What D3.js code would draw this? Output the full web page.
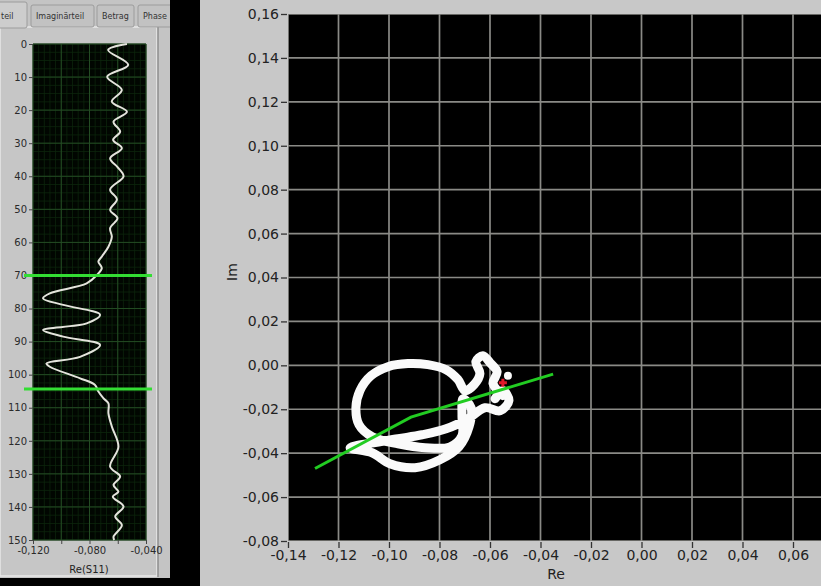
<!DOCTYPE html>
<meta charset="utf-8">
<head>
    <script src="https://d3js.org/d3.v7.min.js"></script>
    <style>
        body { margin: 0; background: #000; }
        svg { display: block; }
        .lbl { font-family: "DejaVu Sans", sans-serif; fill: #222; }
        .tab { font-family: "DejaVu Sans", sans-serif; font-size: 8px; fill: #333; }
    </style>
</head>
<body>
<div id="viz"></div>
<script>
    // Re(S11) against sample index (left strip chart)
    var sampleIndex = [0, 1.8, 6.3, 9.9, 13.9, 17.4, 20.5, 23.5, 26.5, 29, 31.5, 34.6, 37.3, 40, 44, 47,
        50.2, 52.7, 55.7, 58.3, 61.3, 64.3, 65.8, 67.8, 69.9, 72.4, 75.4, 76.9, 78.9, 81.9, 84.5, 86.5,
        88.5, 91, 94.6, 96.6, 97.6, 101.1, 103.1, 105.1, 107.1, 108.7, 111.7, 115.7, 121.8, 127.8, 130.8,
        133.4, 135.4, 136.9, 139.9, 142.9, 145.5, 149, 150];
    var sampleRe = [-0.0535, -0.0668, -0.0526, -0.0675, -0.0571, -0.0642, -0.0535, -0.0630, -0.0583,
        -0.0633, -0.0571, -0.0654, -0.0600, -0.0559, -0.0654, -0.0606, -0.0654, -0.0602, -0.0654, -0.0642,
        -0.0666, -0.0713, -0.0737, -0.0713, -0.0749, -0.0820, -0.1081, -0.1129, -0.0986, -0.0725, -0.0820,
        -0.1129, -0.0986, -0.0725, -0.0867, -0.1105, -0.1081, -0.0867, -0.0761, -0.0737, -0.0702, -0.0666,
        -0.0666, -0.0642, -0.0595, -0.0654, -0.0583, -0.0630, -0.0595, -0.0635, -0.0559, -0.0618, -0.0571,
        -0.0630, -0.0625];
    var cursorIndex = [70, 104.3];

    // Re / Im trajectory (right plot)
    var traceRe = [-0.0549, -0.0588, -0.0572, -0.0600, -0.0628, -0.0656, -0.0640, -0.0663, -0.0699,
        -0.0727, -0.0774, -0.0846, -0.0925, -0.1004, -0.1071, -0.1115, -0.1131, -0.1119, -0.1067, -0.0964,
        -0.0857, -0.0758, -0.0711, -0.0711, -0.0707, -0.0675, -0.0683, -0.0723, -0.0798, -0.0897, -0.0996,
        -0.1067, -0.1154, -0.1055, -0.0964, -0.0869, -0.0774, -0.0687, -0.0620, -0.0560, -0.0525, -0.0549,
        -0.0580];
    var traceIm = [-0.0138, -0.0083, -0.0029, 0.0012, 0.0044, 0.0017, -0.0038, -0.0088, -0.0115,
        -0.0065, -0.0020, 0.0003, 0.0008, -0.0006, -0.0047, -0.0115, -0.0193, -0.0270, -0.0325, -0.0357,
        -0.0375, -0.0371, -0.0321, -0.0229, -0.0152, -0.0193, -0.0280, -0.0371, -0.0430, -0.0466, -0.0448,
        -0.0398, -0.0375, -0.0352, -0.0334, -0.0316, -0.0289, -0.0243, -0.0193, -0.0207, -0.0161, -0.0115,
        -0.0152];
    var dotRe = [-0.0529], dotIm = [-0.0047];
    var markerRe = [-0.0549], markerIm = [-0.0079];
    var fitRe = [-0.1293, -0.0913, -0.035];
    var fitIm = [-0.047, -0.0236, -0.004];

    var tabNames = ["teil", "Imaginärteil", "Betrag", "Phase"];
    var reTicks = [-0.14, -0.12, -0.10, -0.08, -0.06, -0.04, -0.02, 0, 0.02, 0.04, 0.06];

    var loc = d3.formatLocale({decimal: ",", thousands: ".", grouping: [3], currency: ["", ""], minus: "-"});
    var f2 = loc.format(".2f"), f3 = loc.format(".3f");

    var svg = d3.select("#viz").append("svg")
        .attr("width", 821)
        .attr("height", 586);

    svg.append("rect").attr("width", 821).attr("height", 586).attr("fill", "#000");

    // ---------- left panel ----------
    var left = svg.append("g");
    left.append("rect").attr("x", 0).attr("y", 0).attr("width", 170).attr("height", 578).attr("fill", "#c4c4c4");
    left.append("rect").attr("x", 0).attr("y", 27).attr("width", 157).attr("height", 549)
        .attr("fill", "#c6c6c6").attr("stroke", "#e8e8e8").attr("stroke-width", 1.5);
    left.append("line").attr("x1", 158).attr("x2", 158).attr("y1", 27).attr("y2", 577)
        .attr("stroke", "#8e8e8e").attr("stroke-width", 1.5);

    var tabX = [-4, 31, 97, 138], tabW = [31, 63, 37, 36];
    var tabs = left.selectAll(".tabg").data(tabNames).enter().append("g");
    tabs.append("rect")
        .attr("x", function(d, i) { return tabX[i]; })
        .attr("y", function(d, i) { return i == 0 ? 2 : 5; })
        .attr("width", function(d, i) { return tabW[i]; })
        .attr("height", function(d, i) { return i == 0 ? 26 : 22; })
        .attr("rx", 2)
        .attr("fill", function(d, i) { return i == 0 ? "#cdcdcd" : "#c2c2c2"; })
        .attr("stroke", "#9c9c9c");
    tabs.append("text").attr("class", "tab")
        .attr("x", function(d, i) { return tabX[i] + 5; })
        .attr("y", 19)
        .text(function(d) { return d; });
    left.append("rect").attr("x", 170).attr("y", 0).attr("width", 30).attr("height", 586).attr("fill", "#000");

    var lx = d3.scaleLinear().domain([-0.12, -0.04]).range([33, 146]);
    var ly = d3.scaleLinear().domain([0, 150]).range([44, 540]);

    left.append("rect").attr("x", 33).attr("y", 44).attr("width", 113).attr("height", 496).attr("fill", "#010601");
    left.append("g").selectAll("line").data(d3.range(-0.12, -0.0399, 0.004)).enter().append("line")
        .attr("x1", function(d) { return lx(d); }).attr("x2", function(d) { return lx(d); })
        .attr("y1", 44).attr("y2", 540).attr("stroke", "#0d260d").attr("stroke-width", 0.8);
    left.append("g").selectAll("line").data(d3.range(0, 150.1, 2.5)).enter().append("line")
        .attr("y1", function(d) { return ly(d); }).attr("y2", function(d) { return ly(d); })
        .attr("x1", 33).attr("x2", 146).attr("stroke", "#0d260d").attr("stroke-width", 0.8);
    left.append("g").selectAll("line").data(lx.ticks(4)).enter().append("line")
        .attr("x1", function(d) { return lx(d); }).attr("x2", function(d) { return lx(d); })
        .attr("y1", 44).attr("y2", 540).attr("stroke", "#244c24").attr("stroke-width", 1);
    left.append("g").selectAll("line").data(ly.ticks(15)).enter().append("line")
        .attr("y1", function(d) { return ly(d); }).attr("y2", function(d) { return ly(d); })
        .attr("x1", 33).attr("x2", 146).attr("stroke", "#244c24").attr("stroke-width", 1);

    var lyAxis = left.append("g").attr("class", "lbl").attr("transform", "translate(33,0)")
        .call(d3.axisLeft(ly).ticks(15).tickSize(4).tickPadding(2));
    var lxAxis = left.append("g").attr("class", "lbl").attr("transform", "translate(0,540)")
        .call(d3.axisBottom(lx).tickValues(d3.range(-0.12, -0.0399, 0.02)).tickSize(4).tickPadding(3)
            .tickFormat(function(d, i) { return i % 2 == 0 ? f3(d) : ""; }));
    [lyAxis, lxAxis].forEach(function(a) {
        a.select(".domain").remove();
        a.selectAll("line").attr("stroke", "#444");
        a.selectAll("text").attr("fill", "#2a2a2a").style("font-size", "10px").style("font-family", "DejaVu Sans, sans-serif");
    });
    left.append("text").attr("class", "lbl").attr("x", 89).attr("y", 573)
        .attr("text-anchor", "middle").style("font-size", "10px").attr("fill", "#2a2a2a").text("Re(S11)");

    var reLine = d3.line()
        .x(function(d, i) { return lx(sampleRe[i]); })
        .y(function(d) { return ly(d); })
        .curve(d3.curveCatmullRom);
    left.append("path").datum(sampleIndex).attr("d", reLine)
        .attr("fill", "none").attr("stroke", "#e4e4dc").attr("stroke-width", 2);

    left.selectAll(".cursor").data(cursorIndex).enter().append("line")
        .attr("x1", 24).attr("x2", 152)
        .attr("y1", function(d) { return ly(d); }).attr("y2", function(d) { return ly(d); })
        .attr("stroke", "#33dd33").attr("stroke-width", 3);

    // ---------- right panel ----------
    var right = svg.append("g");
    right.append("rect").attr("x", 200).attr("y", 0).attr("width", 621).attr("height", 586).attr("fill", "#c8c8c8");

    var x = d3.scaleLinear().domain([-0.14, 0.10]).range([288, 894]);
    var y = d3.scaleLinear().domain([-0.08, 0.16]).range([541, 14]);

    right.append("clipPath").attr("id", "plotclip").append("rect")
        .attr("x", 288).attr("y", 14).attr("width", 533).attr("height", 527);
    right.append("rect").attr("x", 288).attr("y", 14).attr("width", 540).attr("height", 527).attr("fill", "#000");

    var plot = right.append("g").attr("clip-path", "url(#plotclip)");
    plot.append("g").selectAll("line").data(x.ticks(12)).enter().append("line")
        .attr("x1", function(d) { return x(d); }).attr("x2", function(d) { return x(d); })
        .attr("y1", 14).attr("y2", 541).attr("stroke", "#8a8a86").attr("stroke-width", 1.7);
    plot.append("g").selectAll("line").data(y.ticks(12)).enter().append("line")
        .attr("y1", function(d) { return y(d); }).attr("y2", function(d) { return y(d); })
        .attr("x1", 288).attr("x2", 821).attr("stroke", "#8a8a86").attr("stroke-width", 1.7);

    var yAxis = right.append("g").attr("transform", "translate(287,0)")
        .call(d3.axisLeft(y).ticks(12).tickSize(6).tickPadding(2).tickFormat(f2));
    var xAxis = right.append("g").attr("transform", "translate(0,542)")
        .call(d3.axisBottom(x).tickValues(reTicks).tickSize(6).tickPadding(2).tickFormat(f2));
    [yAxis, xAxis].forEach(function(a) {
        a.select(".domain").remove();
        a.selectAll("line").attr("stroke", "#333").attr("stroke-width", 1.3);
        a.selectAll("text").attr("fill", "#222").style("font-size", "14px").style("font-family", "DejaVu Sans, sans-serif");
    });
    right.append("text").attr("class", "lbl").attr("x", 556).attr("y", 579)
        .attr("text-anchor", "middle").style("font-size", "14px").text("Re");
    right.append("text").attr("class", "lbl").attr("transform", "translate(237,272) rotate(-90)")
        .attr("text-anchor", "middle").style("font-size", "14px").text("Im");

    var trace = d3.line()
        .x(function(d) { return x(d); })
        .y(function(d, i) { return y(traceIm[i]); })
        .curve(d3.curveCatmullRom);
    plot.append("path").datum(traceRe).attr("d", trace)
        .attr("fill", "none").attr("stroke", "#fafafa").attr("stroke-width", 9)
        .attr("stroke-linejoin", "round").attr("stroke-linecap", "round");
    plot.selectAll(".dot").data(dotRe).enter().append("circle")
        .attr("cx", function(d) { return x(d); })
        .attr("cy", function(d, i) { return y(dotIm[i]); })
        .attr("r", 4).attr("fill", "#fafafa");

    var fit = d3.line()
        .x(function(d) { return x(d); })
        .y(function(d, i) { return y(fitIm[i]); });
    plot.append("path").datum(fitRe).attr("d", fit)
        .attr("fill", "none").attr("stroke", "#22cc22").attr("stroke-width", 3);

    markerRe.forEach(function(d, i) {
        var cx = x(d), cy = y(markerIm[i]);
        plot.append("path")
            .attr("d", "M" + (cx - 4) + "," + cy + "h8M" + cx + "," + (cy - 4) + "v8")
            .attr("stroke", "#e0182a").attr("stroke-width", 3);
    });
</script>
</body>
